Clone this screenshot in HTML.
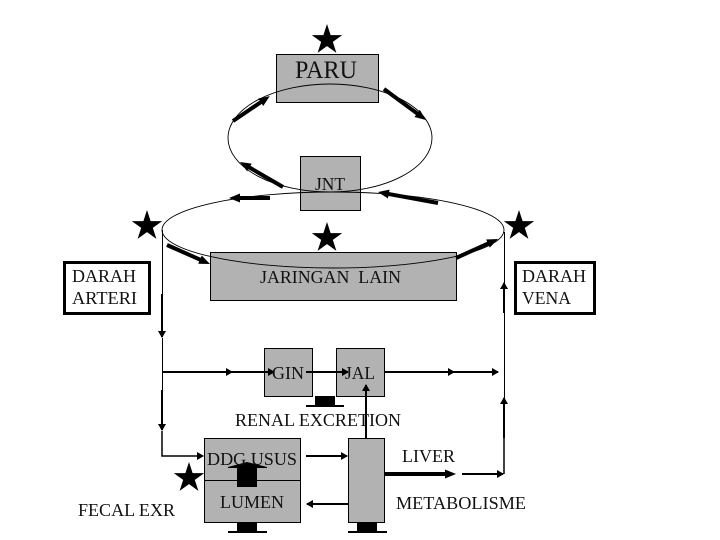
<!DOCTYPE html>
<html>
<head>
<meta charset="utf-8">
<style>
html,body{margin:0;padding:0;background:#fff;}
svg{display:block;}
text{font-family:"Liberation Serif",serif;font-size:18px;fill:#111;white-space:pre;}
</style>
</head>
<body>
<svg width="720" height="540" viewBox="0 0 720 540" xmlns="http://www.w3.org/2000/svg">
<defs>
<marker id="h" markerUnits="userSpaceOnUse" markerWidth="12" markerHeight="10" refX="4" refY="5" orient="auto"><polygon points="0,0.5 11,5 0,9.5" fill="#000"/></marker>
<marker id="s" markerUnits="userSpaceOnUse" markerWidth="9" markerHeight="10" refX="7" refY="5" orient="auto"><polygon points="1,1 8,5 1,9" fill="#000"/></marker>
<polygon id="star" points="0,-16 9.4,12.9 -15.2,-4.9 15.2,-4.9 -9.4,12.9" fill="#000"/>
</defs>

<g fill="#b2b2b2" stroke="#000" stroke-width="1">
<rect x="276.5" y="54.5" width="102" height="48"/>
<rect x="300.5" y="156.5" width="60" height="54"/>
<rect x="210.5" y="252.5" width="246" height="48"/>
<rect x="264.5" y="348.5" width="48" height="48"/>
<rect x="336.5" y="348.5" width="48" height="48"/>
<rect x="204.5" y="438.5" width="96" height="84"/>
<rect x="348.5" y="438.5" width="36" height="84"/>
</g>
<line x1="204" y1="480.5" x2="300" y2="480.5" stroke="#000" stroke-width="1"/>

<rect x="64.5" y="262.5" width="85" height="51" fill="#fff" stroke="#000" stroke-width="3"/>
<rect x="515.5" y="262.5" width="79" height="51" fill="#fff" stroke="#000" stroke-width="3"/>

<ellipse cx="330" cy="138" rx="102" ry="54" fill="none" stroke="#000" stroke-width="0.9"/>
<ellipse cx="333" cy="230" rx="171" ry="38" fill="none" stroke="#000" stroke-width="0.9"/>

<use href="#star" x="327" y="40"/>
<use href="#star" x="327" y="238"/>
<use href="#star" x="147" y="226"/>
<use href="#star" x="519" y="226"/>
<use href="#star" x="189" y="478"/>

<!-- upper thick arrows -->
<g stroke="#000" stroke-width="4" fill="none">
<line x1="233" y1="121" x2="264" y2="100" marker-end="url(#h)"/>
<line x1="384" y1="89" x2="420.3" y2="115.8" marker-end="url(#h)"/>
<line x1="283" y1="187" x2="246" y2="165.5" marker-end="url(#h)"/>
<line x1="270" y1="198" x2="236" y2="198" marker-end="url(#h)"/>
<line x1="438" y1="203" x2="384.9" y2="193.3" marker-end="url(#h)"/>
<line x1="167" y1="245" x2="203.6" y2="261.2" marker-end="url(#h)"/>
<line x1="456" y1="258" x2="491.6" y2="241.9" marker-end="url(#h)"/>
</g>

<!-- lower lines -->
<g stroke="#000" fill="none">
<line x1="162.5" y1="230" x2="162.5" y2="294" stroke-width="1"/>
<line x1="162" y1="294" x2="162" y2="337" stroke-width="2" marker-end="url(#s)"/>
<line x1="162.5" y1="338" x2="162.5" y2="390" stroke-width="1"/>
<line x1="162" y1="390" x2="162" y2="430" stroke-width="2" marker-end="url(#s)"/>
<polyline points="162,431 162,456 203,456" stroke-width="1.5" marker-end="url(#s)"/>

<line x1="504.5" y1="232" x2="504.5" y2="313" stroke-width="1"/>
<line x1="504" y1="313" x2="504" y2="283" stroke-width="2" marker-end="url(#s)"/>
<line x1="504.5" y1="313" x2="504.5" y2="438" stroke-width="1"/>
<line x1="504" y1="438" x2="504" y2="398" stroke-width="2" marker-end="url(#s)"/>
<line x1="504" y1="438" x2="504" y2="474" stroke-width="1.5"/>

<line x1="162" y1="372" x2="232" y2="372" stroke-width="2" marker-end="url(#s)"/>
<line x1="232" y1="372" x2="274" y2="372" stroke-width="2" marker-end="url(#s)"/>
<line x1="306" y1="372" x2="348" y2="372" stroke-width="2" marker-end="url(#s)"/>
<line x1="384" y1="372" x2="454" y2="372" stroke-width="2" marker-end="url(#s)"/>
<line x1="454" y1="372" x2="498" y2="372" stroke-width="2" marker-end="url(#s)"/>

<line x1="366" y1="438" x2="366" y2="385" stroke-width="2" marker-end="url(#s)"/>
<line x1="306" y1="456" x2="347" y2="456" stroke-width="2" marker-end="url(#s)"/>
<line x1="348" y1="504" x2="307" y2="504" stroke-width="2" marker-end="url(#s)"/>
<line x1="385" y1="474" x2="449" y2="474" stroke-width="4" marker-end="url(#h)"/>
<line x1="462" y1="474" x2="503" y2="474" stroke-width="2" marker-end="url(#s)"/>
</g>

<!-- block arrows -->
<g fill="#000">
<polygon points="315,396 335,396 335,405 344,405 344,407 306,407 306,405 315,405"/>
<polygon points="237,487 257,487 257,468 267,468 267,467 247,462 228,467 228,468 237,468"/>
<polygon points="237,522 257,522 257,531 267,531 267,533 228,533 228,531 237,531"/>
<polygon points="357,522 377,522 377,531 387,531 387,533 348,533 348,531 357,531"/>
</g>

<!-- labels -->
<text x="295" y="78" style="font-size:25px" textLength="62" lengthAdjust="spacingAndGlyphs">PARU</text>
<text x="315" y="190" textLength="30" lengthAdjust="spacingAndGlyphs">JNT</text>
<text x="260" y="283" textLength="141" lengthAdjust="spacingAndGlyphs">JARINGAN  LAIN</text>
<text x="72" y="282" textLength="64" lengthAdjust="spacingAndGlyphs">DARAH</text>
<text x="72" y="304" textLength="65" lengthAdjust="spacingAndGlyphs">ARTERI</text>
<text x="522" y="282" textLength="64" lengthAdjust="spacingAndGlyphs">DARAH</text>
<text x="522" y="304" textLength="49" lengthAdjust="spacingAndGlyphs">VENA</text>
<text x="272" y="379" textLength="32" lengthAdjust="spacingAndGlyphs">GIN</text>
<text x="345" y="379" textLength="30" lengthAdjust="spacingAndGlyphs">JAL</text>
<text x="235" y="426" textLength="166" lengthAdjust="spacingAndGlyphs">RENAL EXCRETION</text>
<text x="207" y="465" textLength="90" lengthAdjust="spacingAndGlyphs">DDG USUS</text>
<text x="220" y="508" textLength="64" lengthAdjust="spacingAndGlyphs">LUMEN</text>
<text x="402" y="462" textLength="53" lengthAdjust="spacingAndGlyphs">LIVER</text>
<text x="396" y="509" textLength="130" lengthAdjust="spacingAndGlyphs">METABOLISME</text>
<text x="78" y="516" textLength="97" lengthAdjust="spacingAndGlyphs">FECAL EXR</text>
</svg>
</body>
</html>
